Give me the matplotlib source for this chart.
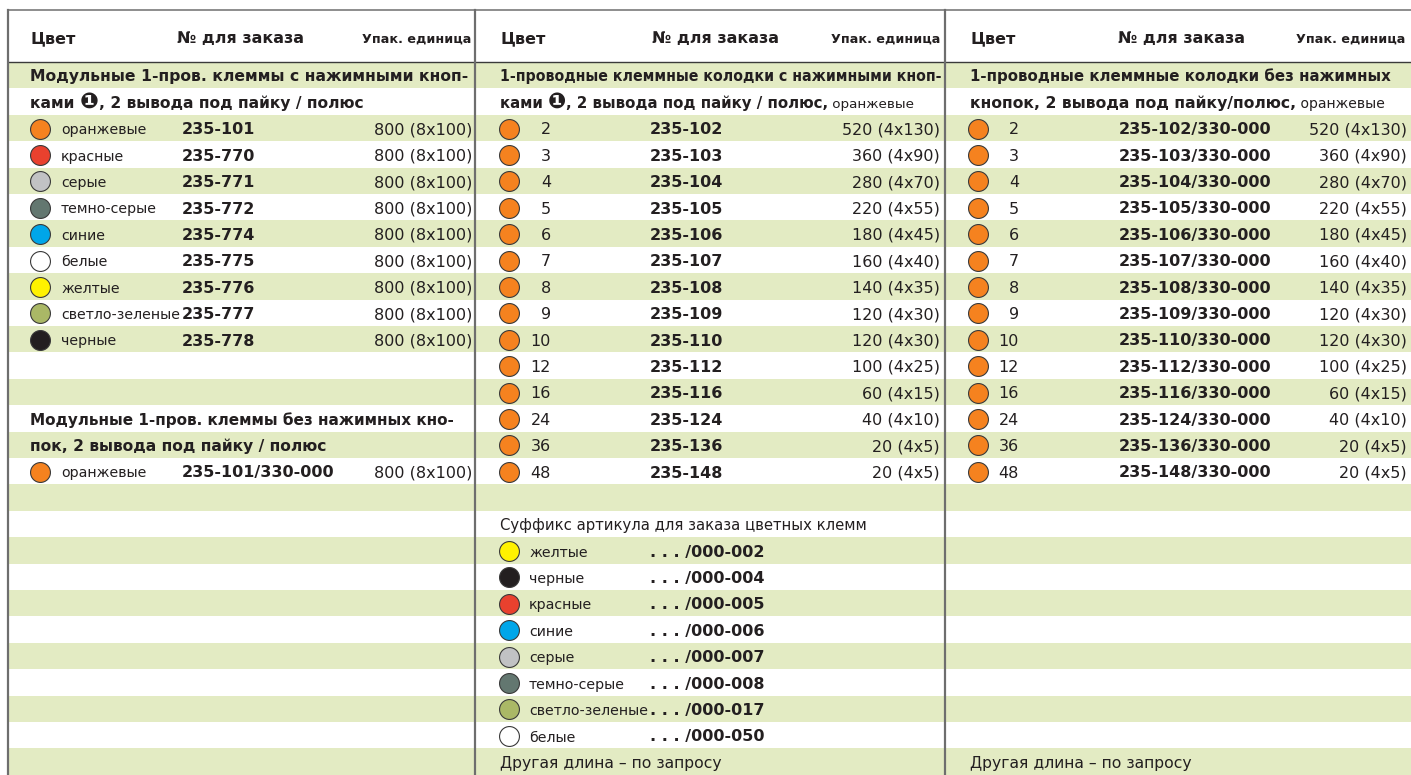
import matplotlib
matplotlib.use("Agg")
import matplotlib.pyplot as plt

plt.rcParams["font.family"] = ["DejaVu Sans"]

# --- данные таблицы ---
header_cols = ["Цвет", "№ для заказа", "Упак. единица"]

mod_title_1 = ["Модульные 1-пров. клеммы с нажимными кноп-",
               ["ками ", "\u2776", ", 2 вывода под пайку / полюс"]]
mod_names = ["оранжевые", "красные", "серые", "темно-серые", "синие",
             "белые", "желтые", "светло-зеленые", "черные"]
mod_colors = ["#f5821f", "#e9412e", "#c1c2c4", "#637770", "#00a6e9",
              "#ffffff", "#fff200", "#aab866", "#231f20"]
mod_codes = ["235-101", "235-770", "235-771", "235-772", "235-774",
             "235-775", "235-776", "235-777", "235-778"]
mod_pack = ["800 (8x100)", "800 (8x100)", "800 (8x100)", "800 (8x100)",
            "800 (8x100)", "800 (8x100)", "800 (8x100)", "800 (8x100)",
            "800 (8x100)"]

mod_title_2 = ["Модульные 1-пров. клеммы без нажимных кно-",
               "пок, 2 вывода под пайку / полюс"]
mod2_name = "оранжевые"
mod2_code = "235-101/330-000"
mod2_pack = "800 (8x100)"

block_title_1 = ["1-проводные клеммные колодки с нажимными кноп-",
                 ["ками ", "\u2776", ", 2 вывода под пайку / полюс,"]]
block_title_2 = ["1-проводные клеммные колодки без нажимных",
                 ["кнопок, 2 вывода под пайку/полюс,"]]
title_suffix = " оранжевые"
poles = ["2", "3", "4", "5", "6", "7", "8", "9", "10", "12", "16", "24", "36", "48"]
block_codes = ["235-102", "235-103", "235-104", "235-105", "235-106", "235-107",
               "235-108", "235-109", "235-110", "235-112", "235-116", "235-124",
               "235-136", "235-148"]
block_codes_2 = ["235-102/330-000", "235-103/330-000", "235-104/330-000",
                 "235-105/330-000", "235-106/330-000", "235-107/330-000",
                 "235-108/330-000", "235-109/330-000", "235-110/330-000",
                 "235-112/330-000", "235-116/330-000", "235-124/330-000",
                 "235-136/330-000", "235-148/330-000"]
block_pack = ["520 (4x130)", "360 (4x90)", "280 (4x70)", "220 (4x55)",
              "180 (4x45)", "160 (4x40)", "140 (4x35)", "120 (4x30)",
              "120 (4x30)", "100 (4x25)", "60 (4x15)", "40 (4x10)",
              "20 (4x5)", "20 (4x5)"]

suffix_title = "Суффикс артикула для заказа цветных клемм"
suffix_names = ["желтые", "черные", "красные", "синие", "серые",
                "темно-серые", "светло-зеленые", "белые"]
suffix_colors = ["#fff200", "#231f20", "#e9412e", "#00a6e9", "#c1c2c4",
                 "#637770", "#aab866", "#ffffff"]
suffix_codes = [". . . /000-002", ". . . /000-004", ". . . /000-005",
                ". . . /000-006", ". . . /000-007", ". . . /000-008",
                ". . . /000-017", ". . . /000-050"]
footer_note = "Другая длина – по запросу"

# --- оформление ---
W, H = 1411, 775
TOP = 62.0
ROW = 26.4
N_ROWS = 27
GREEN = "#e3ebc3"
TXT = "#231f20"
FS = 11.5
FS_NAME = 10.2

fig = plt.figure(figsize=(W / 100, H / 100), dpi=100)
ax = fig.add_axes([0, 0, 1, 1])
ax.set_xlim(0, W)
ax.set_ylim(H, 0)
ax.axis("off")
fig.canvas.draw()
renderer = fig.canvas.get_renderer()


def row_top(r):
    return TOP + ROW * r


def base(r):
    return row_top(r) + 19.5


def x_right(t):
    bb = t.get_window_extent(renderer=renderer)
    return ax.transData.inverted().transform((bb.x1, bb.y0))[0]


def runs_line(x, r, runs, width):
    """Строка из нескольких кусков (жирный/обычный, крупный кружок),
    подогнанная под ширину строки в исходнике."""
    texts = []
    for s, w, k, st in runs:
        texts.append(ax.text(x, base(r), s, fontsize=FS * k, fontweight=w,
                             fontstretch=st, color=TXT))

    def layout():
        cx = x
        for t in texts:
            t.set_x(cx)
            cx = x_right(t)
        return cx - x

    scale = width / layout()
    for t in texts:
        t.set_fontsize(t.get_fontsize() * scale)
    layout()


def title_runs(parts, tail=None):
    runs = []
    for p in parts:
        runs.append((p, "bold", 1.45 if p == "\u2776" else 1.0, "normal"))
    if tail:
        runs.append((tail, "normal", 0.9, "normal"))
    return runs


def dot(x, r, c):
    ax.scatter([x], [row_top(r) + 13.8], s=205, color=c, edgecolor="#3a3a3a",
               linewidth=0.8, zorder=4)


# полосы
for r in range(0, N_ROWS, 2):
    ax.axhspan(row_top(r), row_top(r) + ROW, xmin=8 / W, xmax=1, color=GREEN, lw=0, zorder=0)

# линии
ax.plot([8, W], [10, 10], color="#7a7a7a", lw=1.2, zorder=3)
ax.plot([8, W], [62, 62], color="#3a3a3a", lw=1.0, zorder=3)
for xv in [8, 475, 945]:
    ax.plot([xv, xv], [10, H], color="#6e6e6e", lw=1.6, zorder=3)

# шапка
for x0, x1, x2 in [(30, 177, 471), (500, 652, 940), (970, 1118, 1405)]:
    ax.text(x0, 43, header_cols[0], fontsize=11.5, fontweight="bold", color=TXT)
    ax.text(x1, 43, header_cols[1], fontsize=11.5, fontweight="bold", color=TXT)
    ax.text(x2, 43, header_cols[2], fontsize=9.2, fontweight="bold", color=TXT, ha="right")

# колонка 1
runs_line(30, 0, title_runs([mod_title_1[0]]), 440)
runs_line(30, 1, title_runs(mod_title_1[1]), 335)
for i in range(len(mod_names)):
    r = 2 + i
    dot(40, r, mod_colors[i])
    ax.text(61, base(r), mod_names[i], fontsize=FS_NAME, color=TXT)
    ax.text(182, base(r), mod_codes[i], fontsize=FS, fontweight="bold", color=TXT)
    ax.text(472, base(r), mod_pack[i], fontsize=FS, color=TXT, ha="right")
runs_line(30, 13, title_runs([mod_title_2[0]]), 428)
runs_line(30, 14, title_runs([mod_title_2[1]]), 298)
dot(40, 15, mod_colors[0])
ax.text(61, base(15), mod2_name, fontsize=FS_NAME, color=TXT)
ax.text(182, base(15), mod2_code, fontsize=FS, fontweight="bold", color=TXT)
ax.text(472, base(15), mod2_pack, fontsize=FS, color=TXT, ha="right")

# колонки 2 и 3
for (x0, xdot, xnum, xcode, xpack, title, codes, w1, w2, st1) in [
        (500, 509, 551, 650, 940, block_title_1, block_codes, 443, 415, "condensed"),
        (970, 978, 1019, 1119, 1407, block_title_2, block_codes_2, 424, 417, "normal")]:
    runs_line(x0, 0, [(title[0], "bold", 1.0, st1)], w1)
    runs_line(x0, 1, title_runs(title[1], title_suffix), w2)
    for i in range(len(poles)):
        r = 2 + i
        dot(xdot, r, mod_colors[0])
        ax.text(xnum, base(r), poles[i], fontsize=FS, color=TXT, ha="right")
        ax.text(xcode, base(r), codes[i], fontsize=FS, fontweight="bold", color=TXT)
        ax.text(xpack, base(r), block_pack[i], fontsize=FS, color=TXT, ha="right")

# суффиксы
runs_line(500, 17, [(suffix_title, "normal", 0.9, "normal")], 367)
for i in range(len(suffix_names)):
    r = 18 + i
    dot(509, r, suffix_colors[i])
    ax.text(529, base(r), suffix_names[i], fontsize=FS_NAME, color=TXT)
    ax.text(650, base(r), suffix_codes[i], fontsize=FS, fontweight="bold", color=TXT)

runs_line(500, 26, [(footer_note, "normal", 0.9, "normal")], 222)
runs_line(970, 26, [(footer_note, "normal", 0.9, "normal")], 222)

fig.savefig("out.png", dpi=100)
